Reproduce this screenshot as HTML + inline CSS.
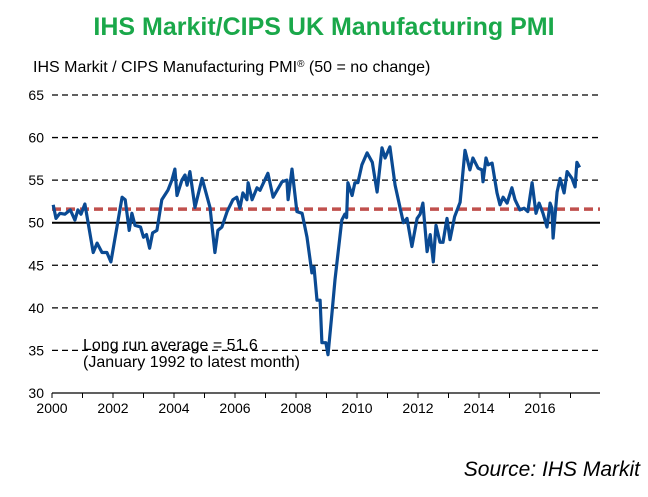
<!DOCTYPE html>
<html><head><meta charset="utf-8"><style>
body{margin:0;background:#fff;width:648px;height:492px;overflow:hidden;font-family:"Liberation Sans",sans-serif}
</style></head><body>
<svg width="648" height="492" id="chart">
<text x="324" y="35" text-anchor="middle" font-size="25" font-weight="bold" fill="#1aa84a">IHS Markit/CIPS UK Manufacturing PMI</text>
<text x="33" y="72" font-size="16" fill="#000">IHS Markit / CIPS Manufacturing PMI<tspan font-size="10" dy="-5">®</tspan><tspan dy="5"> (50 = no change)</tspan></text>
<g id="grid"></g><g id="marks"></g>
<text x="83" y="350" font-size="16">Long run average = 51.6</text>
<text x="83" y="367" font-size="16">(January 1992 to latest month)</text>
<text x="640" y="476" text-anchor="end" font-size="21" font-style="italic">Source: IHS Markit</text>
</svg>
<script>
const yTicks=[30,35,40,45,50,55,60,65];
const xTicks=[2000,2002,2004,2006,2008,2010,2012,2014,2016];
const average=51.6;
const dates=[2000.04,2000.13,2000.26,2000.42,2000.6,2000.75,2000.85,2000.95,2001.08,2001.35,2001.48,2001.64,2001.8,2001.93,2002.3,2002.4,2002.53,2002.62,2002.72,2002.9,2003.0,2003.1,2003.2,2003.3,2003.44,2003.6,2003.8,2003.93,2004.03,2004.1,2004.26,2004.36,2004.43,2004.52,2004.69,2004.92,2005.18,2005.34,2005.44,2005.57,2005.74,2005.93,2006.06,2006.16,2006.26,2006.39,2006.43,2006.56,2006.72,2006.82,2007.08,2007.25,2007.54,2007.7,2007.74,2007.87,2008.03,2008.2,2008.36,2008.52,2008.59,2008.69,2008.79,2008.85,2008.98,2009.05,2009.18,2009.28,2009.38,2009.5,2009.6,2009.66,2009.7,2009.84,2009.93,2010.03,2010.16,2010.33,2010.5,2010.66,2010.82,2010.92,2011.08,2011.25,2011.41,2011.52,2011.64,2011.8,2011.97,2012.07,2012.16,2012.3,2012.4,2012.5,2012.59,2012.72,2012.82,2012.95,2013.05,2013.2,2013.38,2013.54,2013.7,2013.8,2013.97,2014.1,2014.13,2014.23,2014.3,2014.43,2014.59,2014.69,2014.79,2014.92,2015.08,2015.18,2015.34,2015.48,2015.6,2015.74,2015.87,2015.97,2016.1,2016.23,2016.33,2016.39,2016.43,2016.56,2016.66,2016.79,2016.89,2017.05,2017.15,2017.21,2017.3];
const pmi=[52.1,50.5,51.1,51,51.5,50.3,51.5,51,52.2,46.5,47.6,46.5,46.5,45.4,53,52.7,49.1,51.1,49.7,49.5,48.3,48.6,47,48.8,49.1,52.7,53.8,55,56.3,53.2,55,55.6,54.4,56,51.8,55.2,51.8,46.5,49.1,49.5,51.3,52.7,53,51.7,53.5,52.7,54.7,52.7,54.1,53.8,55.8,53,54.8,55,52.7,56.3,51.3,51.1,48.3,44.1,44.8,40.9,40.9,35.9,35.9,34.5,39.4,43.3,46.5,50.3,51,50.6,54.7,53.2,54.7,54.7,56.8,58.2,57.1,53.6,58.8,57.6,58.9,54.4,51.8,50,50.5,47.2,50.5,51,52.3,46.6,48.6,45.4,49.7,47.7,47.7,50.5,48,50.7,52.4,58.5,56.2,57.6,56.4,56.2,54.8,57.6,56.8,57,53.5,52.1,53,52.3,54.1,52.7,51.5,51.7,51.3,54.7,51.1,52.3,51.1,49.5,52.3,51.7,48.2,53.6,55.2,53.5,56,55.2,54.2,57.1,56.5];
const NS='http://www.w3.org/2000/svg';
const X0=52,PX=30.5,Y0=222.7,PY=8.514,XR=600;
const xs=d=>X0+(d-2000)*PX, ys=v=>Y0-(v-50)*PY;
const grid=document.getElementById('grid'), marks=document.getElementById('marks');
function mk(tag,attrs,parent){const e=document.createElementNS(NS,tag);for(const k in attrs)e.setAttribute(k,attrs[k]);parent.appendChild(e);return e;}
yTicks.forEach(t=>{
  const y=ys(t);
  if(t>30){const l=mk('line',{x1:X0,x2:XR,y1:y,y2:y,stroke:'#000','stroke-width':t===50?2:1.3,'stroke-dasharray':t===50?'none':'6,4'},grid);
  
  }
  const tx=mk('text',{x:44,y:y+5,'text-anchor':'end','font-size':14},grid);tx.textContent=t;
  
  
});
const ax=mk('line',{x1:X0,x2:XR,y1:ys(30),y2:ys(30),stroke:'#000','stroke-width':1.3},grid);


for(let yr=2000;yr<=2017;yr++){const x=xs(yr);const tk=mk('line',{x1:x,x2:x,y1:ys(30),y2:ys(30)+5,stroke:'#000','stroke-width':1},grid);

}
xTicks.forEach(t=>{const tx=mk('text',{x:xs(t),y:ys(30)+20,'text-anchor':'middle','font-size':14},grid);tx.textContent=t;

});
const avg=mk('line',{x1:X0,x2:XR,y1:ys(average),y2:ys(average),stroke:'#c0504d','stroke-width':3.5,'stroke-dasharray':'9,5'},marks);


const pts=dates.map((d,i)=>xs(d).toFixed(1)+','+ys(pmi[i]).toFixed(1)).join(' ');
const pl=mk('polyline',{points:pts,fill:'none',stroke:'#0a4a93','stroke-width':3.2,'stroke-linejoin':'round'},marks);


</script>
</body></html>
